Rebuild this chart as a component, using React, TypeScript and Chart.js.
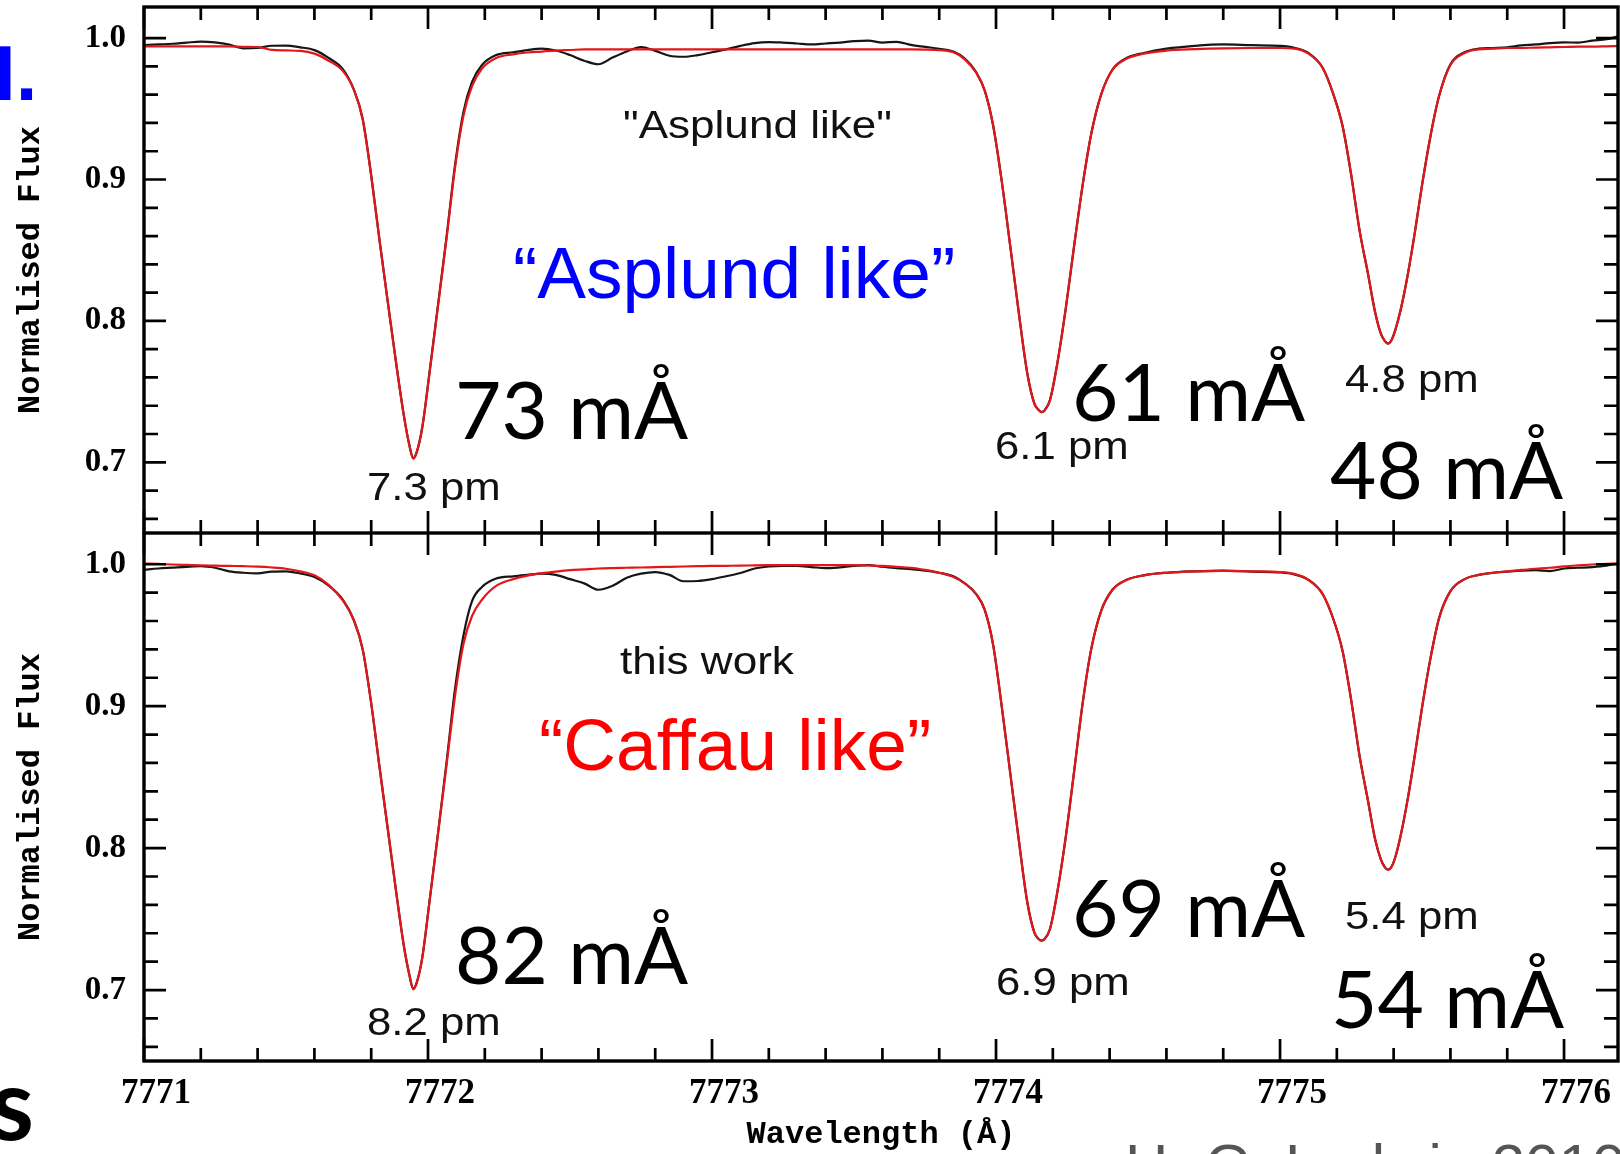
import React, { useEffect, useRef } from "react";
import { Chart, registerables } from "chart.js";

Chart.register(...registerables);

// Wavelength grid (Å)
const wavelength = [
  7771.00, 7771.05, 7771.10, 7771.15, 7771.20, 7771.25, 7771.30, 7771.35, 7771.40, 7771.45, 7771.50, 7771.55,
  7771.60, 7771.65, 7771.70, 7771.74, 7771.77, 7771.80, 7771.83, 7771.86, 7771.89, 7771.915, 7771.935, 7771.948,
  7771.96, 7771.98, 7772.005, 7772.035, 7772.065, 7772.095, 7772.125, 7772.155, 7772.19, 7772.24, 7772.30,
  7772.35, 7772.40, 7772.45, 7772.50, 7772.55, 7772.60, 7772.65, 7772.70, 7772.75, 7772.80, 7772.85, 7772.90,
  7772.95, 7773.00, 7773.05, 7773.10, 7773.15, 7773.20, 7773.25, 7773.30, 7773.35, 7773.40, 7773.45, 7773.50,
  7773.55, 7773.60, 7773.65, 7773.70, 7773.75, 7773.80,
  7773.85, 7773.89, 7773.93, 7773.96, 7773.99, 7774.02, 7774.05, 7774.08, 7774.11, 7774.135, 7774.15, 7774.16,
  7774.17, 7774.19, 7774.215, 7774.245, 7774.275, 7774.305, 7774.335, 7774.37, 7774.41, 7774.46, 7774.52,
  7774.60, 7774.70, 7774.80, 7774.90, 7775.00, 7775.05,
  7775.10, 7775.15, 7775.19, 7775.22, 7775.25, 7775.28, 7775.31, 7775.335, 7775.355, 7775.37, 7775.38, 7775.39,
  7775.405, 7775.425, 7775.45, 7775.475, 7775.50, 7775.53, 7775.56, 7775.60, 7775.65, 7775.70,
  7775.75, 7775.80, 7775.85, 7775.90, 7775.95, 7776.00, 7776.05, 7776.10, 7776.15, 7776.19,
];

// Upper panel ("Asplund like")
const asplundObserved = [
  0.9950, 0.9955, 0.9960, 0.9968, 0.9975, 0.9970, 0.9955, 0.9928, 0.9930, 0.9946, 0.9947, 0.9935,
  0.9915, 0.9860, 0.9780, 0.9630, 0.9430, 0.9030, 0.8560, 0.8110, 0.7670, 0.7330, 0.7115, 0.7030,
  0.7070, 0.7250, 0.7630, 0.8110, 0.8590, 0.9100, 0.9480, 0.9690, 0.9810, 0.9880, 0.9900,
  0.9915, 0.9925, 0.9912, 0.9880, 0.9840, 0.9815, 0.9862, 0.9905, 0.9936, 0.9910, 0.9875, 0.9868,
  0.9880, 0.9900, 0.9920, 0.9945, 0.9965, 0.9972, 0.9968, 0.9962, 0.9956, 0.9962, 0.9968, 0.9978,
  0.9982, 0.9968, 0.9974, 0.9952, 0.9938, 0.9925,
  0.9905, 0.9855, 0.9760, 0.9630, 0.9380, 0.8990, 0.8530, 0.8060, 0.7630, 0.7415, 0.7370, 0.7355,
  0.7365, 0.7440, 0.7690, 0.8080, 0.8530, 0.8960, 0.9320, 0.9600, 0.9778, 0.9860, 0.9895,
  0.9925, 0.9945, 0.9955, 0.9950, 0.9945, 0.9932,
  0.9895, 0.9790, 0.9590, 0.9380, 0.9040, 0.8640, 0.8330, 0.8060, 0.7910, 0.7855, 0.7840, 0.7855,
  0.7930, 0.8080, 0.8330, 0.8630, 0.8960, 0.9310, 0.9590, 0.9815, 0.9900, 0.9925,
  0.9930, 0.9935, 0.9948, 0.9955, 0.9965, 0.9970, 0.9968, 0.9982, 0.9992, 1.0012,
];
const asplundModel = [
  0.9942, 0.9942, 0.9942, 0.9942, 0.9942, 0.9942, 0.9941, 0.9939, 0.9937, 0.9917, 0.9913, 0.9910,
  0.9890, 0.9840, 0.9768, 0.9630, 0.9425, 0.9025, 0.8557, 0.8110, 0.7668, 0.7330, 0.7115, 0.7025,
  0.7070, 0.7250, 0.7626, 0.8102, 0.8579, 0.9080, 0.9452, 0.9660, 0.9785, 0.9860, 0.9885,
  0.9898, 0.9905, 0.9912, 0.9916, 0.9920, 0.9920, 0.9920, 0.9920, 0.9920, 0.9920, 0.9920, 0.9920,
  0.9920, 0.9920, 0.9920, 0.9920, 0.9920, 0.9920, 0.9920, 0.9920, 0.9920, 0.9920, 0.9920, 0.9920,
  0.9920, 0.9920, 0.9920, 0.9920, 0.9919, 0.9915,
  0.9900, 0.9850, 0.9755, 0.9630, 0.9380, 0.8990, 0.8530, 0.8060, 0.7630, 0.7415, 0.7370, 0.7355,
  0.7365, 0.7440, 0.7690, 0.8080, 0.8530, 0.8960, 0.9320, 0.9600, 0.9775, 0.9855, 0.9890,
  0.9912, 0.9922, 0.9928, 0.9930, 0.9930, 0.9925,
  0.9890, 0.9790, 0.9590, 0.9380, 0.9040, 0.8640, 0.8330, 0.8060, 0.7910, 0.7855, 0.7840, 0.7855,
  0.7930, 0.8080, 0.8330, 0.8630, 0.8960, 0.9310, 0.9590, 0.9810, 0.9895, 0.9920,
  0.9925, 0.9930, 0.9930, 0.9933, 0.9935, 0.9937, 0.9940, 0.9940, 0.9942, 0.9944,
];

// Lower panel ("Caffau like", this work)
const caffauObserved = [
  0.9960, 0.9970, 0.9976, 0.9982, 0.9986, 0.9975, 0.9950, 0.9940, 0.9936, 0.9948, 0.9950, 0.9935,
  0.9910, 0.9850, 0.9750, 0.9600, 0.9400, 0.9020, 0.8560, 0.8110, 0.7660, 0.7310, 0.7100, 0.7010,
  0.7050, 0.7230, 0.7620, 0.8100, 0.8600, 0.9120, 0.9500, 0.9740, 0.9840, 0.9899, 0.9915,
  0.9925, 0.9934, 0.9925, 0.9895, 0.9865, 0.9820, 0.9848, 0.9905, 0.9934, 0.9945, 0.9925, 0.9880,
  0.9882, 0.9895, 0.9915, 0.9938, 0.9970, 0.9984, 0.9988, 0.9988, 0.9980, 0.9972, 0.9978, 0.9988,
  0.9993, 0.9982, 0.9972, 0.9965, 0.9955, 0.9940,
  0.9915, 0.9865, 0.9790, 0.9680, 0.9430, 0.9000, 0.8530, 0.8060, 0.7620, 0.7405, 0.7360, 0.7348,
  0.7358, 0.7430, 0.7680, 0.8070, 0.8540, 0.9020, 0.9400, 0.9670, 0.9820, 0.9890, 0.9922,
  0.9940, 0.9950, 0.9955, 0.9948, 0.9942, 0.9928,
  0.9890, 0.9790, 0.9600, 0.9390, 0.9050, 0.8650, 0.8330, 0.8060, 0.7920, 0.7862, 0.7848, 0.7860,
  0.7930, 0.8090, 0.8350, 0.8660, 0.8990, 0.9340, 0.9620, 0.9810, 0.9895, 0.9925,
  0.9940, 0.9948, 0.9955, 0.9958, 0.9952, 0.9970, 0.9975, 0.9980, 0.9990, 1.0005,
];
const caffauModel = [
  1.0005, 1.0002, 0.9998, 0.9995, 0.9992, 0.9990, 0.9988, 0.9986, 0.9983, 0.9977, 0.9968, 0.9950,
  0.9922, 0.9855, 0.9745, 0.9600, 0.9400, 0.9020, 0.8560, 0.8110, 0.7660, 0.7310, 0.7100, 0.7005,
  0.7050, 0.7230, 0.7620, 0.8100, 0.8580, 0.9070, 0.9440, 0.9635, 0.9750, 0.9847, 0.9895,
  0.9920, 0.9936, 0.9948, 0.9958, 0.9964, 0.9970, 0.9973, 0.9975, 0.9977, 0.9980, 0.9982, 0.9984,
  0.9986, 0.9988, 0.9989, 0.9990, 0.9992, 0.9993, 0.9993, 0.9993, 0.9993, 0.9993, 0.9993, 0.9993,
  0.9991, 0.9988, 0.9982, 0.9975, 0.9960, 0.9940,
  0.9910, 0.9865, 0.9790, 0.9680, 0.9430, 0.9000, 0.8530, 0.8060, 0.7620, 0.7405, 0.7360, 0.7348,
  0.7358, 0.7430, 0.7680, 0.8070, 0.8540, 0.9020, 0.9400, 0.9670, 0.9820, 0.9890, 0.9922,
  0.9940, 0.9950, 0.9953, 0.9950, 0.9945, 0.9932,
  0.9890, 0.9790, 0.9600, 0.9390, 0.9050, 0.8650, 0.8330, 0.8060, 0.7920, 0.7862, 0.7848, 0.7860,
  0.7930, 0.8090, 0.8350, 0.8660, 0.8990, 0.9340, 0.9620, 0.9810, 0.9895, 0.9925,
  0.9940, 0.9950, 0.9960, 0.9968, 0.9975, 0.9985, 0.9992, 0.9998, 1.0003, 1.0007,
];

// Axis ticks
const xMajorTicks = [7771, 7772, 7773, 7774, 7775, 7776];
const xMinorTicks = [
  7771.2, 7771.4, 7771.6, 7771.8, 7772.2, 7772.4, 7772.6, 7772.8, 7773.2, 7773.4,
  7773.6, 7773.8, 7774.2, 7774.4, 7774.6, 7774.8, 7775.2, 7775.4, 7775.6, 7775.8,
];
const yMajorTicks = [0.7, 0.8, 0.9, 1.0];
const yMinorTicks = [0.66, 0.68, 0.72, 0.74, 0.76, 0.78, 0.82, 0.84, 0.86, 0.88, 0.92, 0.94, 0.96, 0.98];

const X_MIN = 7771;
const X_MAX = 7776.19;
const Y_MIN = 0.65;
const Y_MAX = 1.022;

type Note = { text: string; x: number; y: number; font: string; color: string; sx?: number };

const SANS = "'Liberation Sans', Arial, sans-serif";
const BIG = "80px Lato, 'Open Sans', sans-serif";
const SMALL = `38px ${SANS}`;

const topNotes: Note[] = [
  { text: "I.", x: -6, y: 100, font: `bold 78px ${SANS}`, color: "#0000ff" },
  { text: '"Asplund like"', x: 623, y: 138, font: `39px ${SANS}`, color: "#111", sx: 1.13 },
  { text: "\u201CAsplund like\u201D", x: 513, y: 298, font: `73px ${SANS}`, color: "#0000ff" },
  { text: "73 mÅ", x: 455, y: 439, font: BIG, color: "#000" },
  { text: "61 mÅ", x: 1072, y: 421, font: BIG, color: "#000" },
  { text: "48 mÅ", x: 1330, y: 499, font: BIG, color: "#000" },
  { text: "7.3 pm", x: 367, y: 500, font: SMALL, color: "#111", sx: 1.15 },
  { text: "6.1 pm", x: 995, y: 459, font: SMALL, color: "#111", sx: 1.15 },
  { text: "4.8 pm", x: 1345, y: 392, font: SMALL, color: "#111", sx: 1.15 },
];

const bottomNotes: Note[] = [
  { text: "this work", x: 620, y: 674, font: `39px ${SANS}`, color: "#111", sx: 1.13 },
  { text: "\u201CCaffau like\u201D", x: 539, y: 770, font: `73px ${SANS}`, color: "#ff0000" },
  { text: "82 mÅ", x: 455, y: 984, font: BIG, color: "#000" },
  { text: "69 mÅ", x: 1072, y: 937, font: BIG, color: "#000" },
  { text: "54 mÅ", x: 1331, y: 1028, font: BIG, color: "#000" },
  { text: "8.2 pm", x: 367, y: 1035, font: SMALL, color: "#111", sx: 1.15 },
  { text: "6.9 pm", x: 996, y: 995, font: SMALL, color: "#111", sx: 1.15 },
  { text: "5.4 pm", x: 1345, y: 929, font: SMALL, color: "#111", sx: 1.15 },
  { text: "s", x: -10, y: 1140, font: "bold 100px Lato, sans-serif", color: "#000" },
  { text: "H.-G. Ludwig 2010", x: 1125, y: 1186, font: `60px ${SANS}`, color: "#555" },
];

function makeFramePlugin(notes: Note[], offsetTop: number) {
  return {
    id: "frameAndNotes",
    afterDatasetsDraw(chart: any) {
      const { ctx, chartArea: ca, scales } = chart;
      const xs = scales.x;
      const ys = scales.y;
      ctx.save();
      ctx.strokeStyle = "#000";
      ctx.lineCap = "butt";
      ctx.lineWidth = 2.7;
      ctx.beginPath();
      const xt = [...xMajorTicks.map((v) => [v, 22]), ...xMinorTicks.map((v) => [v, 13])];
      for (const [v, len] of xt) {
        const px = xs.getPixelForValue(v);
        ctx.moveTo(px, ca.top);
        ctx.lineTo(px, ca.top + len);
        ctx.moveTo(px, ca.bottom);
        ctx.lineTo(px, ca.bottom - len);
      }
      const yt = [...yMajorTicks.map((v) => [v, 22]), ...yMinorTicks.map((v) => [v, 14])];
      for (const [v, len] of yt) {
        const py = ys.getPixelForValue(v);
        ctx.moveTo(ca.left, py);
        ctx.lineTo(ca.left + len, py);
        ctx.moveTo(ca.right, py);
        ctx.lineTo(ca.right - len, py);
      }
      ctx.stroke();
      ctx.lineWidth = 3.4;
      ctx.strokeRect(ca.left, ca.top, ca.right - ca.left, ca.bottom - ca.top);

      for (const n of notes) {
        ctx.save();
        ctx.font = n.font;
        ctx.fillStyle = n.color;
        ctx.textAlign = "left";
        ctx.textBaseline = "alphabetic";
        ctx.translate(n.x, n.y - offsetTop);
        ctx.scale(n.sx ?? 1, 1);
        ctx.fillText(n.text, 0, 0);
        ctx.restore();
      }
      ctx.restore();
    },
  };
}

type PanelProps = {
  top: number;
  height: number;
  observed: number[];
  model: number[];
  showX: boolean;
  notes: Note[];
  padTop: number;
  padBottom: number;
};

function Panel({ top, height, observed, model, showX, notes, padTop, padBottom }: PanelProps) {
  const ref = useRef<HTMLCanvasElement>(null);

  useEffect(() => {
    const canvas = ref.current!;
    const chart = new Chart(canvas, {
      type: "line",
      data: {
        datasets: [
          {
            label: "Synthetic",
            data: wavelength.map((x, i) => ({ x, y: model[i] })),
            borderColor: "#e3161a",
            borderWidth: 2.2,
            pointRadius: 0,
            cubicInterpolationMode: "monotone",
            fill: false,
          },
          {
            label: "Observed",
            data: wavelength.map((x, i) => ({ x, y: observed[i] })),
            borderColor: "#161616",
            borderWidth: 2.2,
            pointRadius: 0,
            cubicInterpolationMode: "monotone",
            fill: false,
          },
        ],
      },
      options: {
        animation: false,
        responsive: false,
        events: [],
        layout: { autoPadding: false, padding: { top: padTop, right: 2, bottom: padBottom, left: 0 } },
        plugins: { legend: { display: false }, tooltip: { enabled: false }, title: { display: false } },
        scales: {
          x: {
            type: "linear",
            min: X_MIN,
            max: X_MAX,
            display: showX,
            grid: { display: false, drawTicks: false },
            border: { display: false },
            afterBuildTicks: (axis: any) => {
              axis.ticks = xMajorTicks.map((value) => ({ value }));
            },
            afterFit: (axis: any) => {
              axis.height = showX ? 93 : 0;
              axis.paddingLeft = 0;
              axis.paddingRight = 0;
            },
            ticks: {
              color: "#000",
              autoSkip: false,
              maxRotation: 0,
              padding: 12,
              labelOffset: 12,
              font: { family: "'Liberation Serif', serif", size: 35, weight: "bold" },
              callback: (v: any) => String(v),
            },
            title: {
              display: true,
              text: "Wavelength (Å)",
              color: "#000",
              font: { family: "'Liberation Mono', monospace", size: 32, weight: "bold", lineHeight: 1.2 },
              padding: { top: 0, bottom: 0 },
            },
          },
          y: {
            type: "linear",
            min: Y_MIN,
            max: Y_MAX,
            grid: { display: false, drawTicks: false },
            border: { display: false },
            afterBuildTicks: (axis: any) => {
              axis.ticks = yMajorTicks.map((value) => ({ value }));
            },
            afterFit: (axis: any) => {
              axis.width = 144;
              axis.paddingTop = 0;
              axis.paddingBottom = 0;
            },
            ticks: {
              color: "#000",
              padding: 18,
              font: { family: "'Liberation Serif', serif", size: 33, weight: "bold" },
              callback: (v: any) => Number(v).toFixed(1),
            },
            title: {
              display: true,
              text: "Normalised Flux",
              color: "#000",
              font: { family: "'Liberation Mono', monospace", size: 32, weight: "bold", lineHeight: 1.2 },
              padding: { top: 12, bottom: 0 },
            },
          },
        },
      },
      plugins: [makeFramePlugin(notes, top)],
    } as any);
    return () => chart.destroy();
  }, []);

  return (
    <canvas
      ref={ref}
      width={1620}
      height={height}
      style={{ position: "absolute", left: 0, top, width: 1620, height, display: "block" }}
    />
  );
}

export default function App() {
  return (
    <div
      style={{
        position: "absolute",
        left: 0,
        top: 0,
        width: 1620,
        height: 1154,
        overflow: "hidden",
        background: "#ffffff",
      }}
    >
      <Panel
        top={0}
        height={534}
        observed={asplundObserved}
        model={asplundModel}
        showX={false}
        notes={topNotes}
        padTop={7}
        padBottom={1}
      />
      <Panel
        top={533}
        height={621}
        observed={caffauObserved}
        model={caffauModel}
        showX={true}
        notes={bottomNotes}
        padTop={0}
        padBottom={0}
      />
    </div>
  );
}
